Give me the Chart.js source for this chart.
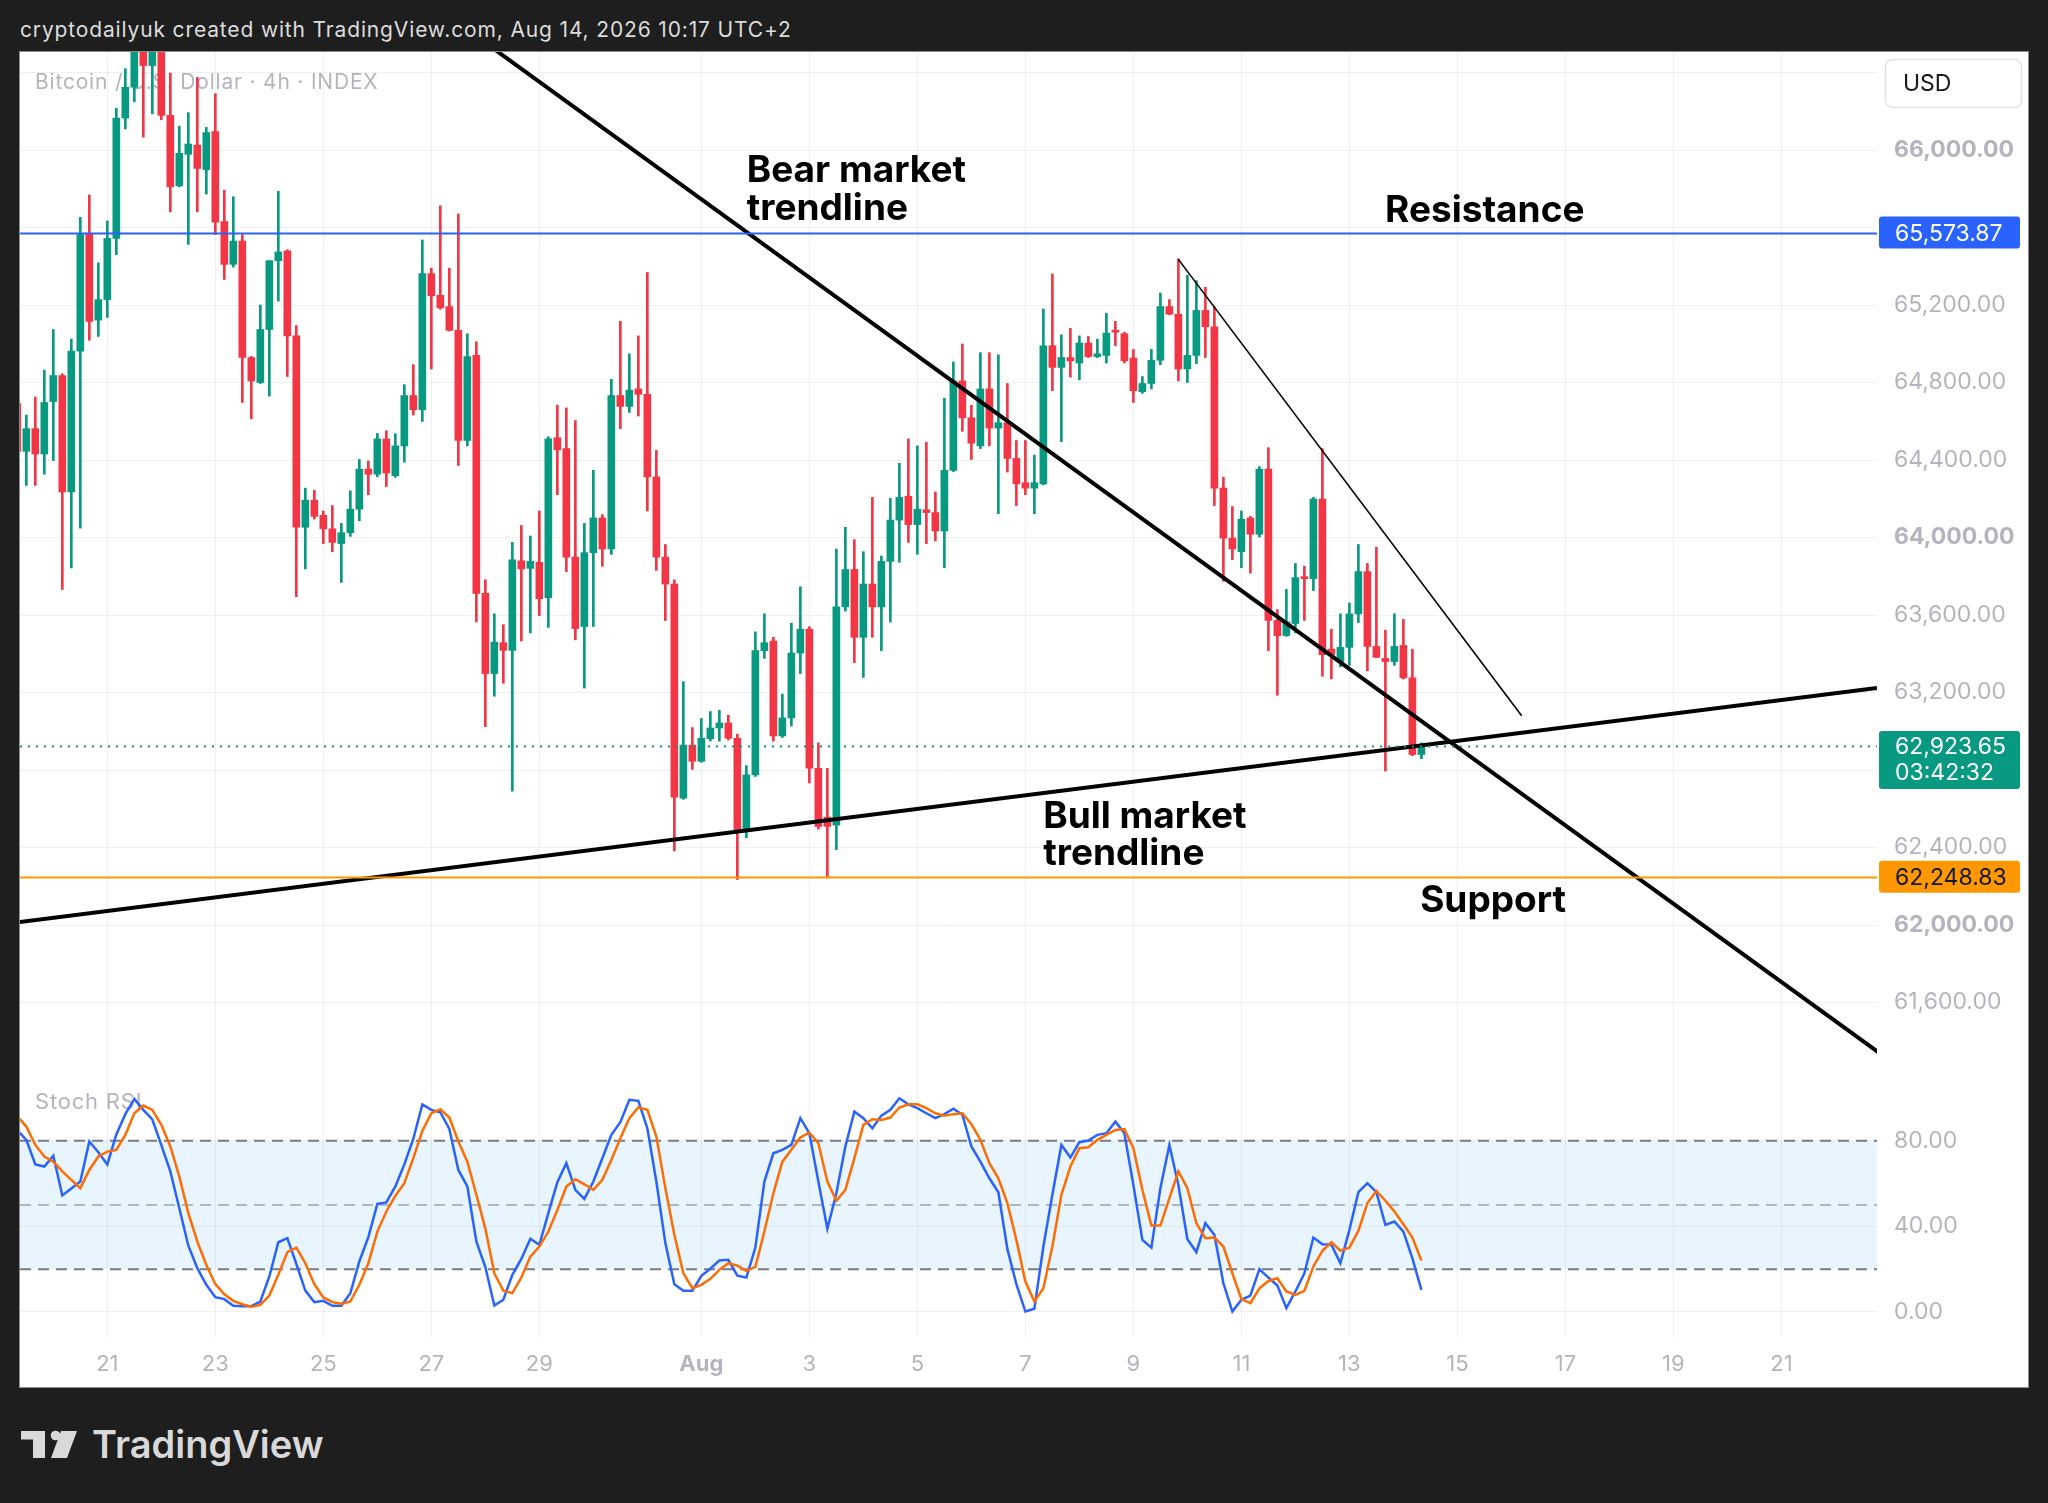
<!DOCTYPE html>
<html>
<head>
<meta charset="utf-8">
<title>BTC/USD 4h</title>
<script src="https://cdn.jsdelivr.net/npm/chart.js@4.4.1/dist/chart.umd.min.js"></script>
<style>
  html, body { margin: 0; padding: 0; background: #1e1e1e; }
  body { width: 2048px; height: 1503px; position: relative; overflow: hidden; font-family: Inter, "Noto Sans", sans-serif; }
  #frame { position: absolute; left: 0; top: 0; }
  #panel { position: absolute; left: 20px; top: 52px; width: 2008px; height: 1335px; background: #fff; box-shadow: 0 0 0 1px #8c8c8c; }
  #chart { display: block; }
</style>
</head>
<body>
<svg id="frame" width="2048" height="1503">
  <text x="20" y="37" fill="#dcdcdc" font-family="Inter" font-size="21" letter-spacing="0.85">cryptodailyuk created with TradingView.com, Aug 14, 2026 10:17 UTC+2</text>
  <g fill="#d9d9d9">
    <rect x="21" y="1431" width="24" height="8.5"/>
    <rect x="33" y="1431" width="12" height="27"/>
    <circle cx="55.5" cy="1435.5" r="4.8"/>
    <polygon points="61,1431 77,1431 67,1458 51,1458"/>
    <text x="92" y="1458" font-family="Inter" font-size="38" font-weight="600">TradingView</text>
  </g>
</svg>
<div id="panel"><canvas id="chart" width="2008" height="1335"></canvas></div>
<script>
// свечи 4h, ось X в днях (1 авг = 32)
const firstCandleDay = 19 + 1 / 3;
const candleStep = 4 / 24;

const opens = [
  64691, 64445, 64562, 64431, 64702, 64836, 64235, 64962, 65569, 65122,
  65228, 65544, 66165, 66324, 66590, 66436, 66560, 66179, 65815, 65978,
  66025, 65899, 66095, 65631, 65410, 65530, 64929, 64800, 65074, 65429,
  65480, 65041, 64053, 64193, 64115, 64045, 63969, 64025, 64146, 64353,
  64327, 64509, 64319, 64473, 64733, 64660, 65362, 65250, 65192, 65069,
  64501, 64940, 63712, 63298, 63457, 63418, 63880, 63841, 63872, 63690,
  64515, 64459, 63899, 63541, 63922, 64101, 63941, 64733, 64677, 64767,
  64739, 64313, 63899, 63760, 62655, 62929, 62845, 62962, 63017, 63043,
  62964, 62489, 62775, 63416, 63466, 62976, 63069, 63404, 63527, 62809,
  62557, 62515, 63642, 63835, 63485, 63760, 63642, 63877, 64090, 64213,
  64067, 64143, 64129, 64034, 64347, 64808, 64618, 64473, 64767, 64565,
  64593, 64408, 64283, 64255, 64277, 64990, 64878, 64929, 64901, 65004,
  64934, 64940, 65066, 65052, 64926, 64753, 64795, 64915, 65192, 65153,
  64870, 64940, 65172, 65088, 64255, 63997, 63927, 64101, 64017, 64353,
  63572, 63494, 63556, 63796, 63788, 64199, 63424, 63360, 63433, 63606,
  63824, 63438, 63376, 63360, 63443, 63276, 62880
];
const highs = [
  64725, 64632, 64725, 64864, 65074, 64845, 65024, 65653, 65768, 65418,
  65634, 66215, 66420, 66640, 66660, 66680, 66640, 66397, 66123, 66193,
  66375, 66117, 66291, 65793, 65759, 65563, 64935, 65200, 65429, 65787,
  65485, 65094, 64255, 64244, 64137, 64165, 64073, 64241, 64403, 64395,
  64537, 64551, 64536, 64789, 64892, 65536, 65390, 65712, 65390, 65670,
  65052, 65010, 63782, 63606, 63550, 63975, 64062, 64008, 64137, 64520,
  64683, 64669, 64604, 64073, 64347, 64118, 64817, 65116, 64948, 65041,
  65368, 64450, 63964, 63782, 63256, 63019, 63066, 63102, 63108, 63083,
  62985, 62823, 63513, 63606, 63485, 63192, 63558, 63746, 63540, 62940,
  62809, 63941, 64053, 63989, 63927, 64207, 63905, 64202, 64383, 64509,
  64473, 64492, 64235, 64719, 64906, 64999, 64683, 64954, 64954, 64943,
  64795, 64501, 64501, 64425, 65180, 65360, 65046, 65080, 65041, 65038,
  65024, 65158, 65116, 65060, 64971, 64831, 64971, 65262, 65228, 65438,
  65354, 65326, 65292, 65192, 64311, 64160, 64137, 64109, 64366, 64464,
  63628, 63732, 63866, 63852, 64207, 64459, 63527, 63606, 63662, 63964,
  63866, 63950, 63522, 63606, 63578, 63424, 62940
];
const lows = [
  64417, 64269, 64269, 64327, 64397, 63732, 63843, 64048, 65018, 65038,
  65136, 65460, 66109, 66249, 66067, 66187, 66157, 65681, 65810, 65513,
  65681, 65773, 65564, 65332, 65396, 64697, 64613, 64795, 64730, 65220,
  64831, 63695, 63838, 64095, 63969, 63927, 63768, 64006, 64087, 64221,
  64314, 64263, 64311, 64389, 64632, 64599, 64870, 65178, 65066, 64372,
  64473, 63564, 63024, 63181, 63248, 62691, 63466, 63508, 63597, 63536,
  64221, 63824, 63472, 63223, 63541, 63852, 63913, 64562, 64646, 64627,
  64137, 63830, 63572, 62383, 62649, 62803, 62840, 62950, 62949, 62955,
  62235, 62451, 62767, 63376, 62949, 62968, 63027, 63298, 62733, 62495,
  62243, 62389, 63620, 63354, 63278, 63485, 63416, 63564, 63872, 63975,
  63913, 63969, 63983, 63844, 64341, 64548, 64403, 64459, 64473, 64123,
  64338, 64165, 64221, 64123, 64272, 64758, 64495, 64828, 64814, 64929,
  64929, 64901, 64990, 64901, 64697, 64744, 64767, 64892, 65150, 64808,
  64800, 64898, 64929, 64165, 63774, 63886, 63844, 63816, 64003, 63416,
  63186, 63490, 63508, 63572, 63726, 63284, 63270, 63332, 63340, 63561,
  63312, 63380, 62795, 63340, 63270, 62874, 62858
];
const closes = [
  64445, 64562, 64431, 64697, 64836, 64235, 64962, 65564, 65116, 65228,
  65544, 66165, 66324, 66560, 66436, 66560, 66179, 65810, 65983, 66031,
  65905, 66090, 65628, 65410, 65530, 64929, 64808, 65074, 65429, 65474,
  65041, 64053, 64193, 64109, 64045, 63975, 64025, 64146, 64353, 64327,
  64509, 64333, 64473, 64733, 64660, 65362, 65248, 65186, 65069, 64501,
  64934, 63712, 63298, 63460, 63418, 63885, 63838, 63877, 63684, 64509,
  64453, 63899, 63530, 63922, 64101, 63941, 64733, 64677, 64761, 64739,
  64313, 63899, 63760, 62660, 62929, 62845, 62964, 63017, 63043, 62964,
  62489, 62775, 63416, 63457, 62976, 63069, 63404, 63527, 62809, 62509,
  62509, 63642, 63835, 63485, 63760, 63642, 63877, 64090, 64207, 64067,
  64146, 64129, 64034, 64347, 64808, 64618, 64487, 64767, 64565, 64593,
  64408, 64277, 64255, 64283, 64990, 64878, 64929, 64912, 65004, 64934,
  64948, 65055, 65060, 64912, 64758, 64795, 64915, 65192, 65153, 64870,
  64940, 65172, 65088, 64255, 63997, 63941, 64095, 64017, 64353, 63572,
  63494, 63564, 63793, 63788, 64199, 63396, 63396, 63433, 63606, 63824,
  63438, 63382, 63360, 63438, 63276, 62880, 62924
];

// Stoch RSI: %K (синяя) и %D (оранжевая)
const stochK = [
  85, 80.5, 69, 68, 73, 54.5, 57.7, 61, 79.7, 74.7,
  69, 83, 92.5, 99.6, 94.5, 90, 78, 65.7, 48.5, 31,
  20.5, 12.7, 6.9, 6, 2.9, 2.7, 2.7, 4.9, 16.6, 32.6,
  34.5, 22.5, 10, 4.6, 5.2, 2.9, 2.9, 8.8, 23.6, 35,
  50.5, 51.2, 58.7, 69, 81, 97, 94.5, 93.4, 85.6, 66.4,
  58.7, 33, 21, 3, 5.7, 17.4, 24.8, 34.2, 31.4, 46.2,
  60.7, 69.6, 57.1, 52.9, 61, 71.9, 82.8, 88.7, 99.2, 98.7,
  85.9, 61, 32.2, 13, 9.9, 9.9, 16.9, 20.2, 24.1, 24.4,
  17, 16.1, 30.1, 61, 74.2, 75.8, 78.1, 90.6, 83.6, 61,
  38.9, 55.5, 77.4, 93.7, 90.6, 85.9, 91.8, 94.5, 99.9, 97.1,
  95.3, 92.9, 90.6, 92.5, 95, 92.2, 77.4, 70.3, 62.5, 56,
  29.5, 13, 0.2, 1.5, 30.6, 54.8, 78.1, 72.2, 79.4, 80.2,
  82.8, 83.6, 89, 83.6, 59.4, 33.7, 30.1, 57.9, 78.1, 59.4,
  34, 28, 41.5, 36.1, 13.5, 0.2, 5.7, 7.7, 20, 16.1,
  12.4, 1.8, 9.6, 18.1, 34.8, 31.7, 31.4, 22.8, 38.4, 56,
  60.2, 56, 40.7, 42.3, 37.6, 25.1, 10.3
];
const stochD = [
  91.4, 86.7, 78.1, 72.7, 70.3, 65.7, 61.8, 57.9, 66.4, 72.7,
  75, 75.8, 82.8, 92.9, 96.5, 94.5, 87.5, 77.4, 63.3, 46.2,
  32.9, 22, 13, 8.3, 5.2, 3.6, 2.5, 3.3, 7.7, 17.4,
  28, 30.1, 22.8, 13, 6.8, 4.6, 3.8, 4.9, 12.7, 22.8,
  37.6, 47, 54.3, 60.2, 71.9, 84.7, 92.9, 94.8, 90.9, 79.7,
  70.3, 54.8, 39, 18.1, 9.9, 8.8, 16.1, 25.9, 30.6, 37.6,
  47.7, 58.7, 62.1, 59.7, 57.1, 61.8, 71.1, 81.2, 90.6, 95.6,
  94.5, 82, 57.9, 36.1, 18.1, 11.1, 12.7, 15.5, 19.7, 22.8,
  21.7, 19.2, 21.1, 37.6, 55.5, 70.3, 75.8, 81.6, 83.9, 78.9,
  61, 52, 57.1, 71.9, 87.5, 90.1, 89.8, 90.9, 95.6, 97.1,
  97.1, 95.3, 92.9, 91.8, 92.5, 92.9, 87.8, 80.5, 69.6, 62.5,
  50.9, 33.7, 14.2, 4.9, 11.1, 30.6, 54.8, 68, 76.6, 77,
  80.5, 82.8, 85.1, 85.5, 76.6, 57.1, 40.4, 40.4, 53.2, 65.7,
  57.9, 41.5, 34.5, 34.8, 30.6, 18.1, 6, 4.1, 11.1, 14.5,
  15.8, 9.6, 8, 9.9, 21.3, 28.6, 32.6, 28.7, 30.1, 37.9,
  50.9, 56.6, 52, 47, 41, 34.8, 24.1
];

const xTickDays = [21, 23, 25, 27, 29, 32, 34, 36, 38, 40, 42, 44, 46, 48, 50, 52];
const xTickLabels = ['21', '23', '25', '27', '29', 'Aug', '3', '5', '7', '9', '11', '13', '15', '17', '19', '21'];
const priceTicks = [61600, 62000, 62400, 62800, 63200, 63600, 64000, 64400, 64800, 65200, 65600, 66000, 66400];
const stochTicks = [0, 40, 80];

const resistance = 65573.87;
const support = 62248.83;
const lastPrice = 62923.65;
const countdown = '03:42:32';

// линии тренда: [день, цена]
const bearLine = [{ x: 28.0, y: 66554 }, { x: 53.8, y: 61343 }];
const bullLine = [{ x: 19.38, y: 62016 }, { x: 53.77, y: 63224 }];
const upperLine = [{ x: 40.83, y: 65437 }, { x: 47.19, y: 63080 }];

const notes = [
    { lines: ['Bear market', 'trendline'], x: 32.84, y: 65835 },
    { lines: ['Resistance'], x: 44.66, y: 65629 },
    { lines: ['Bull market', 'trendline'], x: 38.33, y: 62501 },
    { lines: ['Support'], x: 45.31, y: 62068 }
];

const UP = '#089981';
const DOWN = '#f23645';
const FONT = 'Inter, "Noto Sans", sans-serif';
const AXIS_TEXT = '#b2b5be';
const GRID = 'rgba(42, 46, 57, 0.07)';

const days = opens.map((_, i) => firstCandleDay + i * candleStep);
const candleColors = opens.map((o, i) => closes[i] >= o ? UP : DOWN);

function fmtPrice(v) {
    return v.toLocaleString('en-US', { minimumFractionDigits: 2, maximumFractionDigits: 2 });
}

function roundRect(ctx, x, y, w, h, r) {
    ctx.beginPath();
    ctx.moveTo(x + r, y);
    ctx.lineTo(x + w - r, y);
    ctx.arcTo(x + w, y, x + w, y + r, r);
    ctx.lineTo(x + w, y + h - r);
    ctx.arcTo(x + w, y + h, x + w - r, y + h, r);
    ctx.lineTo(x + r, y + h);
    ctx.arcTo(x, y + h, x, y + h - r, r);
    ctx.lineTo(x, y + r);
    ctx.arcTo(x, y, x + r, y, r);
    ctx.closePath();
}

const overlay = {
    id: 'overlay',
    beforeDatasetsDraw(chart) {
        const { ctx, chartArea: area, scales: { y2 } } = chart;
        ctx.save();
        // полоса Stoch RSI 20..80
        const y80 = y2.getPixelForValue(80);
        const y50 = y2.getPixelForValue(50);
        const y20 = y2.getPixelForValue(20);
        ctx.fillStyle = 'rgba(33, 150, 243, 0.1)';
        ctx.fillRect(area.left, y80, area.width, y20 - y80);
        ctx.lineWidth = 2;
        ctx.setLineDash([11, 7]);
        [[y80, '#787b86'], [y50, 'rgba(120, 123, 134, 0.5)'], [y20, '#787b86']].forEach(([py, color]) => {
            ctx.strokeStyle = color;
            ctx.beginPath();
            ctx.moveTo(area.left, py);
            ctx.lineTo(area.right, py);
            ctx.stroke();
        });
        ctx.setLineDash([]);

        ctx.fillStyle = AXIS_TEXT;
        ctx.textBaseline = 'alphabetic';
        ctx.letterSpacing = '0.8px';
        ctx.font = '21px ' + FONT;
        ctx.fillText('Bitcoin / U.S. Dollar · 4h · INDEX', area.left + 15, area.top + 37);
        ctx.font = '22px ' + FONT;
        ctx.fillText('Stoch RSI', area.left + 15, y2.top + 34);
        ctx.letterSpacing = '0px';
        ctx.restore();
    },
    afterDatasetsDraw(chart) {
        const { ctx, chartArea: area, scales: { x, y } } = chart;
        ctx.save();
        const hline = (price, color, dash, width) => {
            const py = Math.round(y.getPixelForValue(price)) + 0.5;
            ctx.strokeStyle = color;
            ctx.lineWidth = width;
            ctx.setLineDash(dash);
            ctx.beginPath();
            ctx.moveTo(area.left, py);
            ctx.lineTo(area.right, py);
            ctx.stroke();
        };
        hline(resistance, '#2962ff', [], 2);
        hline(support, '#ff9800', [], 2);
        hline(lastPrice, UP, [2, 6], 2);
        ctx.setLineDash([]);

        ctx.fillStyle = '#000';
        ctx.font = 'bold 37px ' + FONT;
        ctx.textBaseline = 'alphabetic';
        notes.forEach(n => {
            const px = x.getPixelForValue(n.x);
            const py = y.getPixelForValue(n.y);
            n.lines.forEach((t, k) => ctx.fillText(t, px, py + k * 37.5));
        });
        ctx.restore();
    },
    afterDraw(chart) {
        const { ctx, chartArea: area, scales: { y } } = chart;
        const left = area.right;
        ctx.save();
        ctx.font = '23px ' + FONT;
        ctx.textBaseline = 'alphabetic';

        // USD
        roundRect(ctx, left + 8.5, 7.5, 136, 48, 7);
        ctx.fillStyle = '#fff';
        ctx.fill();
        ctx.strokeStyle = '#e0e3eb';
        ctx.lineWidth = 1.5;
        ctx.stroke();
        ctx.fillStyle = '#131722';
        ctx.fillText('USD', left + 26, 39);

        const tag = (price, bg, fg) => {
            const py = y.getPixelForValue(price);
            roundRect(ctx, left + 2, py - 16, 141, 32, 3);
            ctx.fillStyle = bg;
            ctx.fill();
            ctx.fillStyle = fg;
            ctx.fillText(fmtPrice(price), left + 18, py + 8);
        };
        tag(resistance, '#2962ff', '#fff');
        tag(support, '#ff9800', '#131722');

        const py = y.getPixelForValue(lastPrice);
        roundRect(ctx, left + 2, py - 15, 141, 58, 3);
        ctx.fillStyle = UP;
        ctx.fill();
        ctx.fillStyle = '#fff';
        ctx.fillText(fmtPrice(lastPrice), left + 18, py + 8);
        ctx.fillText(countdown, left + 18, py + 34);
        ctx.restore();
    }
};

function fitRight(scale) {
    scale.width = 151;
    scale.paddingTop = 0;
    scale.paddingBottom = 0;
}

const ctx = document.getElementById('chart').getContext('2d');

new Chart(ctx, {
    type: 'line',
    data: {
        datasets: [
            { type: 'line', data: bearLine, borderColor: '#000', borderWidth: 4, pointRadius: 0, yAxisID: 'y', order: 0 },
            { type: 'line', data: bullLine, borderColor: '#000', borderWidth: 4, pointRadius: 0, yAxisID: 'y', order: 0 },
            { type: 'line', data: upperLine, borderColor: '#000', borderWidth: 1.6, pointRadius: 0, yAxisID: 'y', order: 0 },
            {
                type: 'line', label: '%D',
                data: days.map((d, i) => ({ x: d, y: stochD[i] })),
                borderColor: '#ff6d00', borderWidth: 2.5, pointRadius: 0, tension: 0,
                yAxisID: 'y2', order: 1
            },
            {
                type: 'line', label: '%K',
                data: days.map((d, i) => ({ x: d, y: stochK[i] })),
                borderColor: '#2962ff', borderWidth: 2.5, pointRadius: 0, tension: 0,
                yAxisID: 'y2', order: 2
            },
            {
                type: 'bar', label: 'body',
                data: days.map((d, i) => ({ x: d, y: [opens[i], closes[i]] })),
                backgroundColor: candleColors, borderWidth: 0,
                barThickness: 7, minBarLength: 2, grouped: false,
                yAxisID: 'y', order: 3
            },
            {
                type: 'bar', label: 'wick',
                data: days.map((d, i) => ({ x: d, y: [lows[i], highs[i]] })),
                backgroundColor: candleColors, borderWidth: 0,
                barThickness: 2, grouped: false,
                yAxisID: 'y', order: 4
            }
        ]
    },
    options: {
        responsive: false,
        maintainAspectRatio: false,
        devicePixelRatio: 1,
        animation: false,
        events: [],
        layout: { padding: 0 },
        plugins: {
            legend: { display: false },
            tooltip: { enabled: false }
        },
        scales: {
            x: {
                type: 'linear',
                min: 19.383,
                max: 53.77,
                offset: false,
                bounds: 'data',
                border: { display: false },
                grid: { color: GRID, drawTicks: false, offset: false },
                afterBuildTicks: scale => { scale.ticks = xTickDays.map(v => ({ value: v })); },
                afterFit: scale => {
                    scale.height = 50;
                    scale.paddingLeft = 0;
                    scale.paddingRight = 0;
                },
                ticks: {
                    autoSkip: false,
                    maxRotation: 0,
                    padding: 14,
                    color: AXIS_TEXT,
                    font: c => ({ family: FONT, size: 22, weight: xTickLabels[c.index] === 'Aug' ? 'bold' : 'normal' }),
                    callback: (v, i) => xTickLabels[i]
                }
            },
            y: {
                type: 'linear',
                position: 'right',
                stack: 'panes',
                stackWeight: 1023,
                min: 61226,
                max: 66506,
                beginAtZero: false,
                bounds: 'data',
                border: { display: false },
                grid: { color: GRID, drawTicks: false },
                afterBuildTicks: scale => { scale.ticks = priceTicks.map(v => ({ value: v })); },
                afterFit: fitRight,
                ticks: {
                    autoSkip: false,
                    padding: 17,
                    color: AXIS_TEXT,
                    font: c => ({ family: FONT, size: 23, weight: c.tick && c.tick.value % 2000 === 0 ? 'bold' : 'normal' }),
                    callback: v => fmtPrice(v)
                }
            },
            y2: {
                type: 'linear',
                position: 'right',
                stack: 'panes',
                stackWeight: 262,
                min: -11.7,
                max: 110.8,
                beginAtZero: false,
                bounds: 'data',
                border: { display: false },
                grid: { color: GRID, drawTicks: false },
                afterBuildTicks: scale => { scale.ticks = stochTicks.map(v => ({ value: v })); },
                afterFit: fitRight,
                ticks: {
                    autoSkip: false,
                    padding: 17,
                    color: AXIS_TEXT,
                    font: { family: FONT, size: 23 },
                    callback: v => v.toFixed(2)
                }
            }
        }
    },
    plugins: [overlay]
});
</script>
</body>
</html>
